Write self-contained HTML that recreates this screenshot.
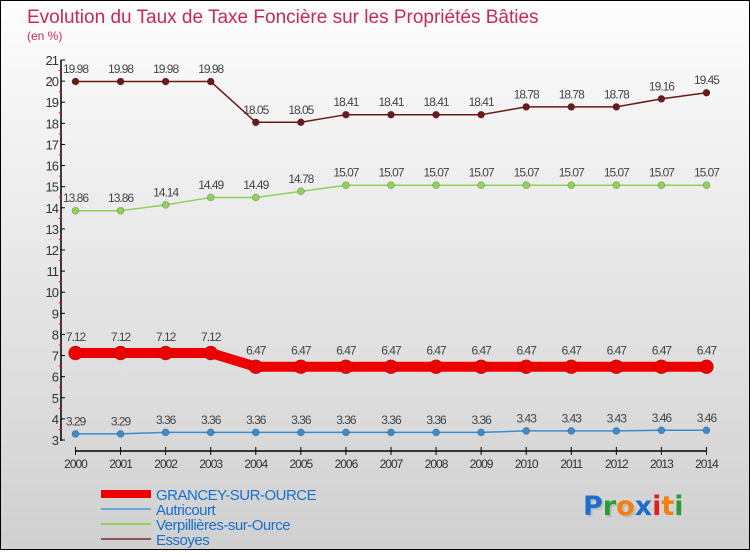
<!DOCTYPE html>
<html><head><meta charset="utf-8"><style>
html,body{margin:0;padding:0}
body{width:750px;height:550px;overflow:hidden;font-family:"Liberation Sans","DejaVu Sans",sans-serif}
#wrap{position:relative;width:748px;height:548px;border:1px solid #000;background:linear-gradient(#fdfdfd,#d0d0d0)}
</style></head><body>
<div id="wrap">
<svg id="chart" width="748" height="548" xmlns="http://www.w3.org/2000/svg">
<text x="26" y="22" font-size="19" fill="#c8285a">Evolution du Taux de Taxe Foncière sur les Propriétés Bâties</text>
<text x="26" y="39" font-size="12" fill="#c8285a">(en %)</text>
<g id="axes"></g><g id="series"></g><g id="legend"></g>
<g font-size="27" font-family="'DejaVu Sans',sans-serif" font-weight="bold">
<text x="584" y="516" fill="#aaa" opacity="0.5">Pro</text>
<text x="582" y="514"><tspan fill="#1a6fcc">P</tspan><tspan fill="#2a9a3a">r</tspan><tspan fill="#f08010">o</tspan><tspan fill="#1a6fcc">x</tspan><tspan fill="#e02020">i</tspan><tspan fill="#f08010">t</tspan><tspan fill="#2a9a3a">i</tspan></text>
</g>
</svg></div>
<script>
const years=[2000,2001,2002,2003,2004,2005,2006,2007,2008,2009,2010,2011,2012,2013,2014];
const grancey=[7.12,7.12,7.12,7.12,6.47,6.47,6.47,6.47,6.47,6.47,6.47,6.47,6.47,6.47,6.47];
const autricourt=[3.29,3.29,3.36,3.36,3.36,3.36,3.36,3.36,3.36,3.36,3.43,3.43,3.43,3.46,3.46];
const verpillieres=[13.86,13.86,14.14,14.49,14.49,14.78,15.07,15.07,15.07,15.07,15.07,15.07,15.07,15.07,15.07];
const essoyes=[19.98,19.98,19.98,19.98,18.05,18.05,18.41,18.41,18.41,18.41,18.78,18.78,18.78,19.16,19.45];
const yTicks=[3,4,5,6,7,8,9,10,11,12,13,14,15,16,17,18,19,20,21];
const seriesNames=["GRANCEY-SUR-OURCE","Autricourt","Verpillières-sur-Ource","Essoyes"];
const NS="http://www.w3.org/2000/svg";
const x=i=>74.5+i*45.07;
const y=v=>439-(v-3)*21.11;
function mk(p,t,a){const e=document.createElementNS(NS,t);for(const k in a)e.setAttribute(k,a[k]);p.appendChild(e);return e;}
const axes=document.getElementById('axes');
let e=mk(axes,'line',{x1:60,y1:59,x2:60,y2:440,stroke:'#000','stroke-width':1.5});

yTicks.forEach(t=>{
 mk(axes,'line',{x1:60,y1:y(t),x2:64,y2:y(t),stroke:'#000'});
 if(t<21)mk(axes,'line',{x1:58,y1:y(t+0.5),x2:61,y2:y(t+0.5),stroke:'#f00'});
 const l=mk(axes,'text',{x:57,y:y(t)+5,'font-size':13,'text-anchor':'end',fill:'#333','letter-spacing':'-1'});
 l.textContent=t;
 
});
e=mk(axes,'line',{x1:x(0),y1:450,x2:x(14),y2:450,stroke:'#000','stroke-width':1.5});

years.forEach((yr,i)=>{
 mk(axes,'line',{x1:x(i),y1:446,x2:x(i),y2:454,stroke:'#000'});
 const l=mk(axes,'text',{x:x(i),y:467,'font-size':12,'text-anchor':'middle',fill:'#333','letter-spacing':'-1'});
 l.textContent=yr;
 
});
const ser=document.getElementById('series');
function draw(vals,color,w,r,name){
 const g=mk(ser,'g',{});
 
 mk(g,'polyline',{points:vals.map((v,i)=>x(i)+','+y(v)).join(' '),fill:'none',stroke:color,'stroke-width':w});
 vals.forEach((v,i)=>{
  const c=mk(g,'circle',{cx:x(i),cy:y(v),r:r,fill:color,stroke:'rgba(0,0,0,0.3)','stroke-width':0.6});
  
  const t=mk(g,'text',{x:x(i),y:y(v)-r-5,'font-size':12,'text-anchor':'middle',fill:'#444','letter-spacing':'-1'});
  t.textContent=v.toFixed(2).replace(/0$/,'').replace(/\.$/,'');
  if(String(v).split('.')[1]&&String(v).split('.')[1].length===2)t.textContent=v.toFixed(2);
  
 });
}
draw(essoyes,'#6b1a1a',1.5,3.5,'series-essoyes');
draw(verpillieres,'#8fd15a',1.5,3.5,'series-verpillieres');
draw(autricourt,'#3c8ccc',1.5,3.5,'series-autricourt');
draw(grancey,'#ee0000',10,7,'series-grancey');
const leg=document.getElementById('legend');
const lcol=['#ee0000','#6fa8d8','#8fd15a','#8b5555'],lw=[8,2,2,2],ly=[493,508,523,538];
seriesNames.forEach((n,i)=>{
 const g=mk(leg,'g',{});
 
 mk(g,'line',{x1:100,y1:ly[i],x2:150,y2:ly[i],stroke:lcol[i],'stroke-width':lw[i]});
 const t=mk(g,'text',{x:155,y:ly[i]+6,'font-size':15,fill:i===0?'#1a6fcc':'#1a6fcc','letter-spacing':'-0.5'});
 t.textContent=n;
});
</script>
</body></html>
